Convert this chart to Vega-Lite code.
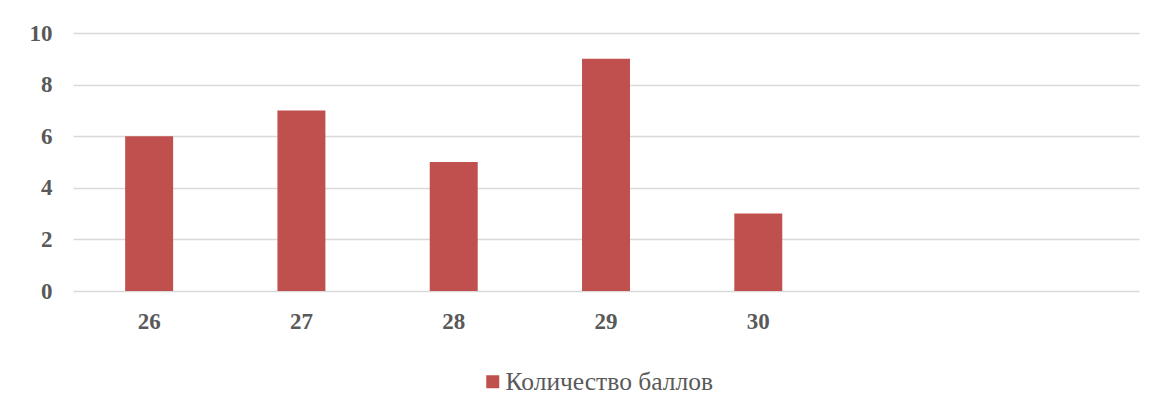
{
  "$schema": "https://vega.github.io/schema/vega-lite/v6.json",
  "autosize": "none",
  "width": 1066,
  "height": 258,
  "padding": {"left": 73, "top": 33, "right": 21, "bottom": 116},
  "background": "white",
  "data": {"values": [
    {"score": 26, "count": 6, "series": "Количество баллов"},
    {"score": 27, "count": 7, "series": "Количество баллов"},
    {"score": 28, "count": 5, "series": "Количество баллов"},
    {"score": 29, "count": 9, "series": "Количество баллов"},
    {"score": 30, "count": 3, "series": "Количество баллов"}
  ]},
  "mark": {"type": "bar"},
  "encoding": {
    "x": {
      "field": "score", "type": "ordinal",
      "scale": {"domain": [26, 27, 28, 29, 30, 31, 32], "paddingInner": 0.685, "paddingOuter": 0.3425},
      "axis": {
        "title": null, "labelAngle": 0, "ticks": false, "domain": false, "grid": false,
        "labelExpr": "datum.value <= 30 ? datum.label : ''",
        "labelFont": "Liberation Serif, Times New Roman, serif", "labelFontSize": 23, "labelFontWeight": "bold",
        "labelColor": "#595959", "labelPadding": 19
      }
    },
    "y": {
      "field": "count", "type": "quantitative",
      "scale": {"domain": [0, 10], "nice": false},
      "axis": {
        "title": null, "values": [0, 2, 4, 6, 8, 10], "ticks": false, "domain": false,
        "gridColor": "#d9d9d9", "gridWidth": 1.5,
        "labelFont": "Liberation Serif, Times New Roman, serif", "labelFontSize": 23, "labelFontWeight": "bold",
        "labelColor": "#595959", "labelPadding": 21
      }
    },
    "color": {
      "field": "series", "type": "nominal",
      "scale": {"range": ["#c0504d"]},
      "legend": {
        "title": null, "orient": "none", "legendX": 407, "legendY": 336,
        "symbolType": "square", "symbolSize": 169, "symbolStrokeWidth": 0,
        "labelFont": "Liberation Serif, Times New Roman, serif", "labelFontSize": 25.5, "labelColor": "#595959",
        "labelOffset": 0, "labelLimit": 500
      }
    }
  },
  "config": {"view": {"stroke": null}}
}
